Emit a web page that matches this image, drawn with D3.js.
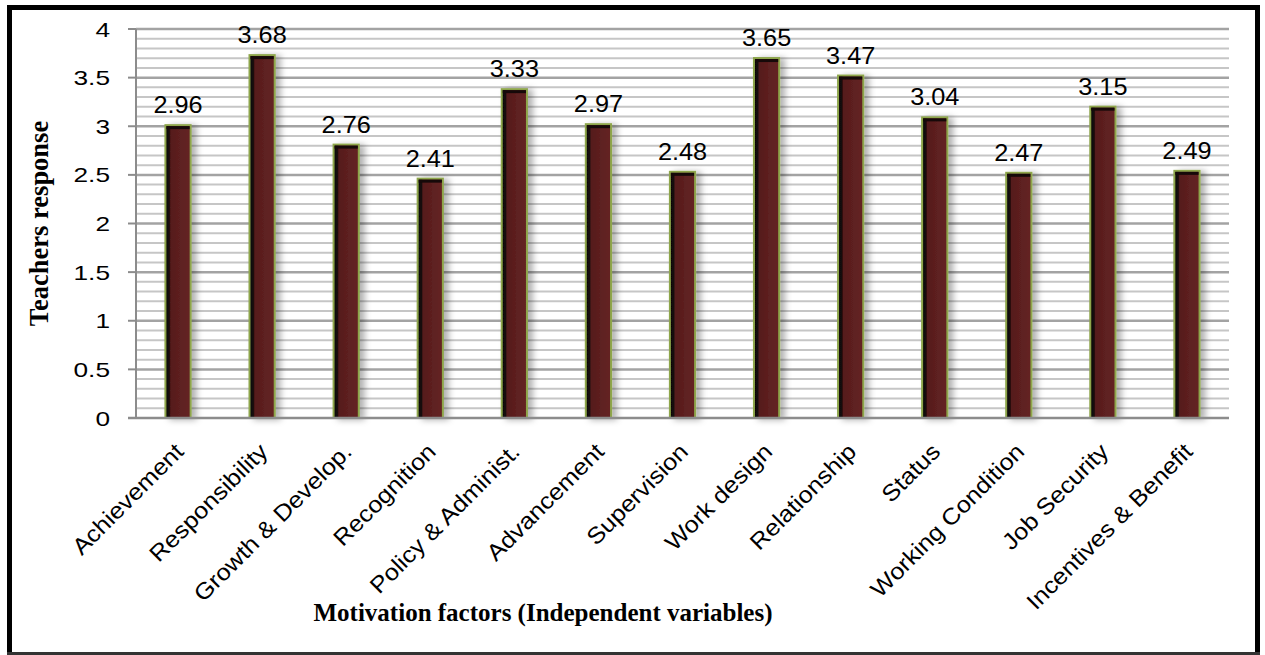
<!DOCTYPE html>
<html>
<head>
<meta charset="utf-8">
<script src="https://cdn.jsdelivr.net/npm/d3@7"></script>
<style>
  html, body { margin: 0; padding: 0; background: #fff; }
  svg { display: block; }
</style>
</head>
<body>
<div id="chart"></div>
<script>
const factors = ["Achievement", "Responsibility", "Growth & Develop.", "Recognition", "Policy & Administ.",
    "Advancement", "Supervision", "Work design", "Relationship", "Status", "Working Condition",
    "Job Security", "Incentives & Benefit"];
const responses = [2.96, 3.68, 2.76, 2.41, 3.33, 2.97, 2.48, 3.65, 3.47, 3.04, 2.47, 3.15, 2.49];
const yTicks = [0, 0.5, 1, 1.5, 2, 2.5, 3, 3.5, 4];

const W = 1265, H = 655;
const plotLeft = 136, plotRight = 1229, plotTop = 29, plotBottom = 418;

const svg = d3.select("#chart")
    .append("svg")
    .attr("width", W)
    .attr("height", H);

const defs = svg.append("defs");

// bar face: dark strip on the left, maroon body
const grd = defs.append("linearGradient")
    .attr("id", "barFill")
    .attr("x1", "0").attr("x2", "1").attr("y1", "0").attr("y2", "0");
grd.append("stop").attr("offset", "0%").attr("stop-color", "#0d0606");
grd.append("stop").attr("offset", "15%").attr("stop-color", "#140808");
grd.append("stop").attr("offset", "21%").attr("stop-color", "#561c1c");
grd.append("stop").attr("offset", "100%").attr("stop-color", "#652424");

const shadow = defs.append("filter")
    .attr("id", "shadow")
    .attr("x", "-50%").attr("y", "-10%").attr("width", "200%").attr("height", "120%");
shadow.append("feDropShadow")
    .attr("dx", 5).attr("dy", 1)
    .attr("stdDeviation", 3)
    .attr("flood-color", "#000")
    .attr("flood-opacity", 0.3);

const x = d3.scaleBand()
    .domain(factors)
    .range([plotLeft, plotRight])
    .paddingInner(0.7)
    .paddingOuter(0.35);

const y = d3.scaleLinear()
    .domain([0, 4])
    .range([plotBottom, plotTop]);

// minor gridlines
svg.append("g")
    .selectAll("line")
    .data(d3.range(0, 40).map(i => i / 10).filter(v => Math.round(v * 10) % 5 !== 0))
    .join("line")
    .attr("x1", plotLeft).attr("x2", plotRight)
    .attr("y1", d => y(d)).attr("y2", d => y(d))
    .attr("stroke", "#c6c6c6")
    .attr("stroke-width", 2);

// major gridlines
svg.append("g")
    .selectAll("line")
    .data(yTicks.filter(d => d > 0))
    .join("line")
    .attr("x1", plotLeft).attr("x2", plotRight)
    .attr("y1", d => y(d)).attr("y2", d => y(d))
    .attr("stroke", "#a3a3a3")
    .attr("stroke-width", 2.5);

// bars
const cap = 5;
const bars = svg.append("g")
    .selectAll("g")
    .data(factors.map((f, i) => ({ f, v: responses[i] })))
    .join("g");

bars.append("rect")
    .attr("x", d => x(d.f))
    .attr("y", d => y(d.v) - cap)
    .attr("width", x.bandwidth())
    .attr("height", d => y(0) - y(d.v) + cap)
    .attr("fill", "url(#barFill)")
    .attr("stroke", "#8ea64c")
    .attr("stroke-width", 2)
    .attr("filter", "url(#shadow)");

// dark top edge
bars.append("rect")
    .attr("x", d => x(d.f) + 1)
    .attr("y", d => y(d.v) - cap + 1)
    .attr("width", x.bandwidth() - 2)
    .attr("height", 3)
    .attr("fill", "#160909");

// value labels
bars.append("text")
    .attr("transform", d => `translate(${x(d.f) + x.bandwidth() / 2},${y(d.v) - cap - 12}) scale(1.1,1)`)
    .attr("text-anchor", "middle")
    .attr("font-family", "Liberation Sans, Arial, sans-serif")
    .attr("font-size", 23)
    .attr("fill", "#000")
    .text(d => d.v.toFixed(2));

// y axis
const yAxis = svg.append("g");
yAxis.append("line")
    .attr("x1", plotLeft).attr("x2", plotLeft)
    .attr("y1", y(4)).attr("y2", y(0))
    .attr("stroke", "#8c8c8c").attr("stroke-width", 2);
yAxis.selectAll(".tick")
    .data(yTicks)
    .join("line")
    .attr("class", "tick")
    .attr("x1", plotLeft - 8).attr("x2", plotLeft)
    .attr("y1", d => y(d)).attr("y2", d => y(d))
    .attr("stroke", "#8c8c8c").attr("stroke-width", 2);
yAxis.selectAll("text")
    .data(yTicks)
    .join("text")
    .attr("transform", d => `translate(110,${y(d) + 7.5}) scale(1.25,1)`)
    .attr("text-anchor", "end")
    .attr("font-family", "Liberation Sans, Arial, sans-serif")
    .attr("font-size", 21)
    .attr("fill", "#000")
    .text(d => d);

// x axis
const xAxis = svg.append("g");
xAxis.append("line")
    .attr("x1", plotLeft - 8).attr("x2", plotRight)
    .attr("y1", y(0)).attr("y2", y(0))
    .attr("stroke", "#8c8c8c").attr("stroke-width", 2.5);
xAxis.selectAll("text")
    .data(factors)
    .join("text")
    .attr("transform", d => `translate(${x(d) + x.bandwidth() / 2 + 7},${y(0) + 35}) rotate(-45) scale(1.1,1)`)
    .attr("text-anchor", "end")
    .attr("font-family", "Liberation Sans, Arial, sans-serif")
    .attr("font-size", 23)
    .attr("fill", "#000")
    .text(d => d);

// axis titles
svg.append("text")
    .attr("transform", `translate(48,${(plotTop + plotBottom) / 2}) rotate(-90)`)
    .attr("text-anchor", "middle")
    .attr("font-family", "Liberation Serif, Times New Roman, serif")
    .attr("font-weight", "bold")
    .attr("font-size", 26.5)
    .text("Teachers response");

svg.append("text")
    .attr("x", 543)
    .attr("y", 621)
    .attr("text-anchor", "middle")
    .attr("font-family", "Liberation Serif, Times New Roman, serif")
    .attr("font-weight", "bold")
    .attr("font-size", 25)
    .text("Motivation factors (Independent variables)");

// frame
svg.append("path")
    .attr("d", `M9.5,653 L9.5,7.5 L1257.5,7.5 L1257.5,653`)
    .attr("fill", "none")
    .attr("stroke", "#000")
    .attr("stroke-width", 5);
svg.append("line")
    .attr("x1", 7).attr("x2", 1260)
    .attr("y1", 653.5).attr("y2", 653.5)
    .attr("stroke", "#333")
    .attr("stroke-width", 3);
</script>
</body>
</html>
